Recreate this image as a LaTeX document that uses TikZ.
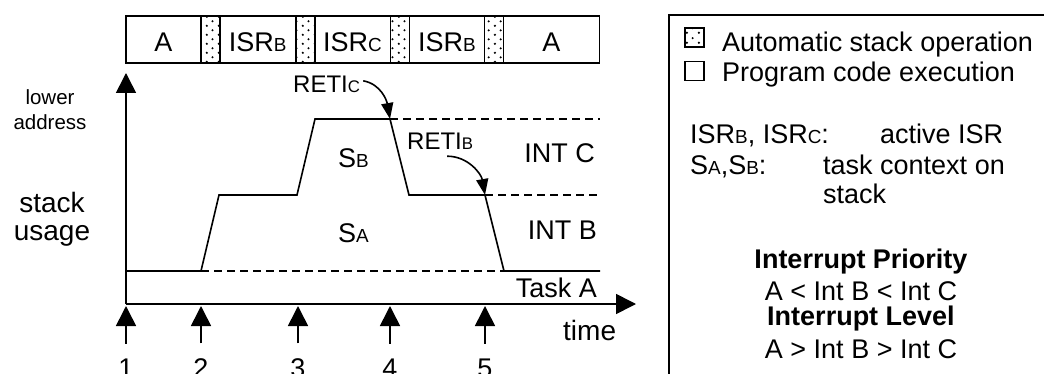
\documentclass[tikz,border=0pt]{standalone}
\usepackage{fontspec}
\setmainfont{Liberation Sans}
\usetikzlibrary{arrows.meta,patterns.meta,positioning}

\tikzdeclarepattern{
  name=stipple,
  type=uncolored,
  bounding box={(0pt,0pt) and (12pt,9.4pt)},
  tile size={(12pt,9.4pt)},
  code={
    \fill (3pt,2.35pt) circle (1.2pt);
    \fill (9pt,7.05pt) circle (1.2pt);
  }
}

\newcommand{\lsub}[1]{\scalebox{0.7}{#1}}

\tikzset{
  lbl/.style={font=\fontsize{27}{30}\selectfont, inner sep=0pt},
  cell/.style={draw, line width=1.6pt, minimum height=47pt, inner sep=0pt,
    outer sep=0pt, text height=25pt, text depth=0pt, lbl},
  dotcell/.style={cell, minimum width=19pt, pattern=stipple},
  big/.style={-{Triangle[width=20pt,length=20pt]}, line width=1.6pt},
  small/.style={-{Triangle[width=12pt,length=16pt]}, line width=1.6pt},
  limit/.style={line width=1.6pt, dash pattern=on 8pt off 5pt},
}

\begin{document}
\begin{tikzpicture}[x=1pt,y=1pt]
  \useasboundingbox (0,0) rectangle (1044,-374);
  \clip (0,0) rectangle (1044,-374);

  % Execution bar
  \node[cell, minimum width=74.7pt, anchor=north west] (a1) at (126,-16) {A};
  \node[dotcell, right=0pt of a1] (d1) {};
  \node[cell, minimum width=76pt, right=0pt of d1] (isrb1) {ISR\lsub{B}};
  \node[dotcell, right=0pt of isrb1] (d2) {};
  \node[cell, minimum width=75.7pt, right=0pt of d2] (isrc) {ISR\lsub{C}};
  \node[dotcell, right=0pt of isrc] (d3) {};
  \node[cell, minimum width=75pt, right=0pt of d3] (isrb2) {ISR\lsub{B}};
  \node[dotcell, right=0pt of isrb2] (d4) {};
  \node[cell, minimum width=96pt, right=0pt of d4] (a2) {A};

  % Axes
  \coordinate (o) at (126,-304);
  \coordinate (ytop) at (126,-73);
  \coordinate (xend) at (636,-304);
  \draw[big] (o) -- (ytop);
  \draw[big] (o) -- (xend);
  \node[lbl, font=\fontsize{20.5}{25}\selectfont, align=center] (addr) at (50,-110) {lower\\address};
  \node[lbl, font=\fontsize{28}{28}\selectfont, align=center] (usage) at (52,-219) {stack\\usage};
  \node[lbl, anchor=base west, font=\fontsize{28}{30}\selectfont] (time) at (563,-340) {time};

  % Stack levels
  \coordinate (c4) at (390,-119);
  \coordinate (c5) at (485,-195);
  \draw[line width=1.6pt] (126,-271) -- (201,-271) -- (219,-195) -- (297,-195)
    -- (315,-119) -- (c4) -- (409,-195) -- (c5) -- (504,-271) -- (600,-271);
  \draw[limit] (201,-271) -- (504,-271);
  \draw[limit] (c4) -- (600,-119);
  \draw[limit] (c5) -- (600,-195);

  \node[lbl, anchor=base west] (sb) at (338,-168) {S\lsub{B}};
  \node[lbl, anchor=base west] (sa) at (338,-242) {S\lsub{A}};
  \node[lbl, anchor=base east] (intc) at (595,-163) {INT C};
  \node[lbl, anchor=base east] (intb) at (597,-240) {INT B};
  \node[lbl, anchor=base east] (taska) at (597,-297) {Task A};

  % Returns
  \node[lbl, anchor=base west, font=\fontsize{24}{26}\selectfont] (retic) at (293,-93) {RETI\lsub{C}};
  \node[lbl, anchor=base west, font=\fontsize{24}{26}\selectfont] (retib) at (407,-150) {RETI\lsub{B}};
  \draw[small] ([xshift=3pt,yshift=4pt]retic.east) to[out=-10,in=100] (c4);
  \draw[small] ([xshift=7pt,yshift=-6pt]retib.south) to[out=0,in=100] (c5);

  % Time points
  \foreach \x/\n in {126/1,201/2,298/3,390/4,485/5} {
    \node[lbl, anchor=base] (t\n) at (\x,-377.5) {\n};
    \draw[big] ([yshift=15pt]t\n.north) -- (\x,-306);
  }

  % Legend
  \draw[line width=1.6pt] (669,-15) rectangle (1100,-400);
  \node[draw, line width=1.4pt, pattern=stipple, minimum size=19pt, inner sep=0pt] (keyauto) at (694.5,-37.5) {};
  \node[draw, line width=1.4pt, minimum size=19pt, inner sep=0pt] (keycode) at (694.5,-71) {};
  \node[lbl, anchor=base west] (tauto) at (722,-52) {Automatic stack operation};
  \node[lbl, anchor=base west] (tcode) at (722,-82) {Program code execution};

  \node[lbl, anchor=base west] (isrkey) at (690,-144) {ISR\lsub{B}, ISR\lsub{C}:};
  \node[lbl, anchor=base west] (isrtxt) at (880,-144) {active ISR};
  \node[lbl, anchor=base west] (skey) at (690,-175) {S\lsub{A},S\lsub{B}:};
  \node[lbl, anchor=base west] (ctx1) at (823,-175) {task context on};
  \node[lbl, anchor=base west] (ctx2) at (823,-204) {stack};

  \node[lbl, anchor=base, font=\fontsize{27}{30}\selectfont\bfseries] (prio) at (861,-268) {Interrupt Priority};
  \node[lbl, anchor=base] (prioord) at (861,-300) {A < Int B < Int C};
  \node[lbl, anchor=base, font=\fontsize{27}{30}\selectfont\bfseries] (lvl) at (861,-325) {Interrupt Level};
  \node[lbl, anchor=base] (lvlord) at (861,-358) {A > Int B > Int C};
\end{tikzpicture}
\end{document}
